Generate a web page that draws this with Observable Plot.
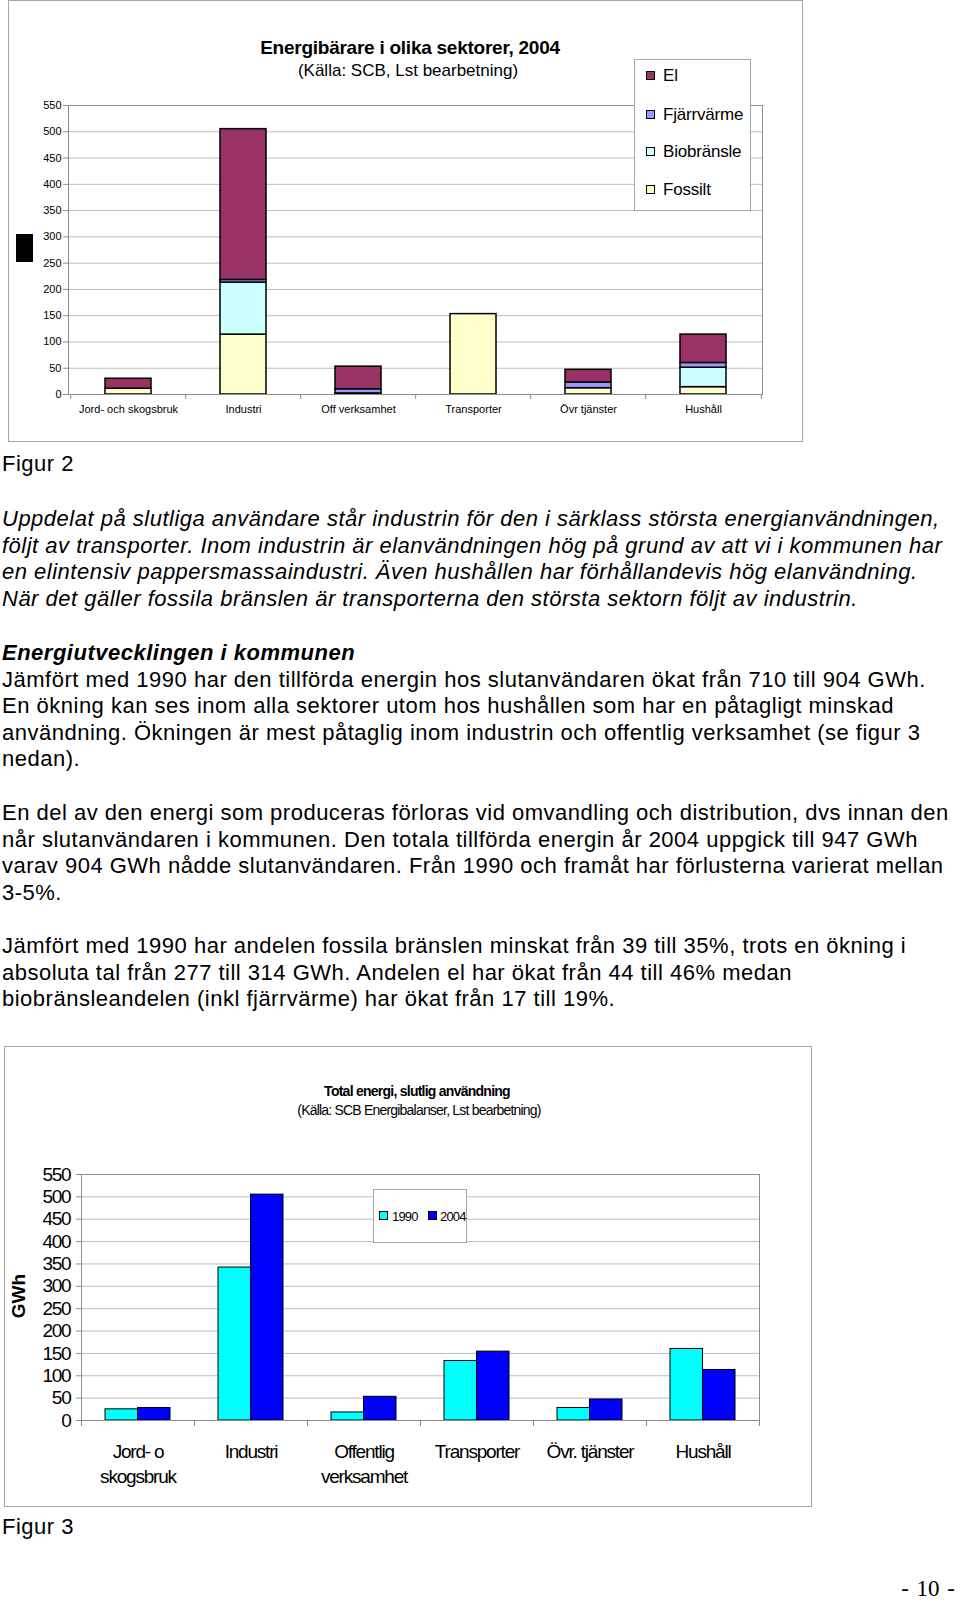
<!DOCTYPE html>
<html><head><meta charset="utf-8">
<script src="https://cdn.jsdelivr.net/npm/d3@7"></script>
<script src="https://cdn.jsdelivr.net/npm/@observablehq/plot@0.6"></script>
<style>
body{margin:0;background:#fff;font-family:"Liberation Sans",Arial,sans-serif;color:#000;}
#page{position:relative;width:960px;height:1600px;overflow:hidden;background:#fff;}
.frame{position:absolute;border:1px solid #a6a6a6;box-sizing:border-box;}
.abs{position:absolute;white-space:nowrap;}
.txt{position:absolute;left:2px;font-size:22px;letter-spacing:0.5px;line-height:26.5px;white-space:nowrap;}
.ctitle{position:absolute;transform:translate(-50%,-50%);white-space:nowrap;}
.leg{position:absolute;background:#fff;border:1px solid #a6a6a6;box-sizing:border-box;}
.sw{position:absolute;width:9px;height:9px;border:1px solid #000;box-sizing:border-box;}
.lt{position:absolute;transform:translateY(-50%);white-space:nowrap;}
</style>
</head><body>
<div id="page">
  <div class="frame" style="left:8px;top:0;width:795px;height:442px;"></div>
  <div id="c1" class="abs" style="left:8px;top:0;"></div>
  <div class="ctitle" style="left:410px;top:48px;font-size:19px;font-weight:bold;letter-spacing:-0.25px;">Energibärare i olika sektorer, 2004</div>
  <div class="ctitle" style="left:408px;top:71px;font-size:17px;">(Källa: SCB, Lst bearbetning)</div>
  <div class="abs" style="left:16px;top:234px;width:17px;height:28px;background:#000;"></div>
  <div id="leg1" class="leg" style="left:634px;top:59px;width:117px;height:152px;"></div>

  <div class="txt" style="top:451px;">Figur 2</div>
  <div class="txt" style="top:506px;font-style:italic;">Uppdelat på slutliga användare står industrin för den i särklass största energianvändningen,<br>följt av transporter. Inom industrin är elanvändningen hög på grund av att vi i kommunen har<br>en elintensiv pappersmassaindustri. Även hushållen har förhållandevis hög elanvändning.<br>När det gäller fossila bränslen är transporterna den största sektorn följt av industrin.</div>
  <div class="txt" style="top:640px;"><b><i>Energiutvecklingen i kommunen</i></b><br>Jämfört med 1990 har den tillförda energin hos slutanvändaren ökat från 710 till 904 GWh.<br>En ökning kan ses inom alla sektorer utom hos hushållen som har en påtagligt minskad<br>användning. Ökningen är mest påtaglig inom industrin och offentlig verksamhet (se figur 3<br>nedan).</div>
  <div class="txt" style="top:800px;">En del av den energi som produceras förloras vid omvandling och distribution, dvs innan den<br>når slutanvändaren i kommunen. Den totala tillförda energin år 2004 uppgick till 947 GWh<br>varav 904 GWh nådde slutanvändaren. Från 1990 och framåt har förlusterna varierat mellan<br>3-5%.</div>
  <div class="txt" style="top:933px;">Jämfört med 1990 har andelen fossila bränslen minskat från 39 till 35%, trots en ökning i<br>absoluta tal från 277 till 314 GWh. Andelen el har ökat från 44 till 46% medan<br>biobränsleandelen (inkl fjärrvärme) har ökat från 17 till 19%.</div>

  <div class="frame" style="left:4px;top:1046px;width:808px;height:461px;"></div>
  <div id="c2" class="abs" style="left:4px;top:1046px;"></div>
  <div class="ctitle" style="left:417px;top:1091px;font-size:14px;font-weight:bold;letter-spacing:-0.75px;">Total energi, slutlig användning</div>
  <div class="ctitle" style="left:419px;top:1110px;font-size:14px;letter-spacing:-0.8px;">(Källa: SCB Energibalanser, Lst bearbetning)</div>
  <div class="ctitle" style="left:19px;top:1296px;font-size:19px;font-weight:bold;transform:translate(-50%,-50%) rotate(-90deg);">GWh</div>
  <div id="leg2" class="leg" style="left:373px;top:1189px;width:94px;height:54px;"></div>

  <div class="txt" style="top:1514px;">Figur 3</div>
  <div class="abs" style="right:5px;top:1578px;font-family:'Liberation Serif',serif;font-size:23px;word-spacing:2px;line-height:22px;">- 10 -</div>
</div>
<script>
// ---- Figur 2 data ----
const sectors1 = ["Jord- och skogsbruk", "Industri", "Off verksamhet", "Transporter", "Övr tjänster", "Hushåll"];
const types1 = ["El", "Fjärrvärme", "Biobränsle", "Fossilt"];
const colors1 = ["#993366", "#9999ff", "#ccffff", "#ffffcc"];
const el = [19, 287, 43, 0, 24, 54];
const fjarrvarme = [0, 5, 8, 0, 11, 9];
const biobransle = [0, 99, 0, 0, 0, 37];
const fossilt = [11, 114, 2, 153, 12, 14];
const yTicks = [0, 50, 100, 150, 200, 250, 300, 350, 400, 450, 500, 550];

// ---- Figur 3 data ----
const sectors2 = ["Jord- o\nskogsbruk", "Industri", "Offentlig\nverksamhet", "Transporter", "Övr. tjänster", "Hushåll"];
const years = ["1990", "2004"];
const yearColors = ["#00ffff", "#0000ff"];
const v1990 = [25, 342, 18, 133, 28, 160];
const v2004 = [28, 505, 53, 154, 47, 113];

const seriesArr = {"El": el, "Fjärrvärme": fjarrvarme, "Biobränsle": biobransle, "Fossilt": fossilt};
const rows1 = [];
sectors1.forEach((s, i) => {
  ["Fossilt", "Biobränsle", "Fjärrvärme", "El"].forEach(t => {
    const v = seriesArr[t][i];
    if (v > 0) rows1.push({sector: s, type: t, value: v});
  });
});

// Chart 1
{
  const W = 795, H = 442, ml = 60, mr = 41, mt = 105, mb = 48;
  const p = 0.6;
  const step = (W - ml - mr) / sectors1.length;
  const chart = Plot.plot({
    width: W, height: H,
    marginLeft: ml, marginRight: mr, marginTop: mt, marginBottom: mb,
    style: {fontFamily: "Liberation Sans, Arial, sans-serif", fontSize: "11px", color: "#000", background: "transparent", overflow: "visible"},
    x: {domain: sectors1, paddingInner: p, paddingOuter: p / 2, label: null},
    y: {domain: [0, 550], label: null},
    color: {domain: types1, range: colors1},
    marks: [
      Plot.gridY(yTicks, {stroke: "#bdbdbd", strokeOpacity: 1}),
      Plot.frame({stroke: "#8c8c8c"}),
      Plot.barY(rows1, {x: "sector", y: "value", fill: "type", order: ["Fossilt", "Biobränsle", "Fjärrvärme", "El"], stroke: "#000", strokeWidth: 1.5}),
      Plot.ruleY([0], {stroke: "#8c8c8c"}),
      Plot.ruleX(sectors1, {x: d => d, y1: 0, y2: 0, insetBottom: -5, dx: -step / 2, stroke: "#8c8c8c"}),
      Plot.ruleX(sectors1.slice(-1), {x: d => d, y1: 0, y2: 0, insetBottom: -5, dx: step / 2, stroke: "#8c8c8c"}),
      Plot.axisY(yTicks, {tickSize: 5, tickPadding: 2, stroke: "#8c8c8c", label: null, letterSpacing: "-0.5px"}),
      Plot.axisX({tickSize: 0, tickPadding: 11, label: null})
    ]
  });
  document.getElementById("c1").appendChild(chart);

  const leg = document.getElementById("leg1");
  const ys = [16, 55, 92, 130];
  types1.forEach((t, i) => {
    const sw = document.createElement("div");
    sw.className = "sw";
    sw.style.left = "11px"; sw.style.top = (ys[i] - 5) + "px"; sw.style.background = colors1[i];
    leg.appendChild(sw);
    const tx = document.createElement("div");
    tx.className = "lt";
    tx.style.left = "28px"; tx.style.top = ys[i] + "px";
    tx.style.fontSize = "17px"; tx.style.letterSpacing = "-0.2px";
    tx.textContent = t;
    leg.appendChild(tx);
  });
}

// Chart 2
{
  const W = 808, H = 461, ml = 77, mr = 53, mt = 128, mb = 87;
  const p = 0.425;
  const step = (W - ml - mr) / sectors2.length;
  const half = step * (1 - p) / 2;
  const rows2 = sectors2.map((s, i) => ({sector: s, a: v1990[i], b: v2004[i]}));
  const chart = Plot.plot({
    width: W, height: H,
    marginLeft: ml, marginRight: mr, marginTop: mt, marginBottom: mb,
    style: {fontFamily: "Liberation Sans, Arial, sans-serif", fontSize: "19px", color: "#000", background: "transparent", overflow: "visible", letterSpacing: "-1.2px"},
    x: {domain: sectors2, paddingInner: p, paddingOuter: p / 2, label: null},
    y: {domain: [0, 550], label: null},
    marks: [
      Plot.gridY(yTicks, {stroke: "#bdbdbd", strokeOpacity: 1}),
      Plot.frame({stroke: "#8c8c8c"}),
      Plot.barY(rows2, {x: "sector", y: "a", fill: yearColors[0], stroke: "#000", strokeWidth: 1, insetRight: half}),
      Plot.barY(rows2, {x: "sector", y: "b", fill: yearColors[1], stroke: "#000", strokeWidth: 1, insetLeft: half}),
      Plot.ruleY([0], {stroke: "#8c8c8c"}),
      Plot.ruleX(sectors2, {x: d => d, y1: 0, y2: 0, insetBottom: -6, dx: -step / 2, stroke: "#8c8c8c"}),
      Plot.ruleX(sectors2.slice(-1), {x: d => d, y1: 0, y2: 0, insetBottom: -6, dx: step / 2, stroke: "#8c8c8c"}),
      Plot.axisY(yTicks, {tickSize: 5, tickPadding: 6, stroke: "#8c8c8c", label: null}),
      Plot.axisX({tickSize: 0, tickPadding: 20, lineHeight: 1.3, label: null})
    ]
  });
  document.getElementById("c2").appendChild(chart);

  const leg = document.getElementById("leg2");
  const sx = [5, 54], tx0 = [18, 66];
  years.forEach((y, i) => {
    const sw = document.createElement("div");
    sw.className = "sw";
    sw.style.left = sx[i] + "px"; sw.style.top = "21px"; sw.style.background = yearColors[i];
    leg.appendChild(sw);
    const tx = document.createElement("div");
    tx.className = "lt";
    tx.style.left = tx0[i] + "px"; tx.style.top = "26px";
    tx.style.fontSize = "13px"; tx.style.letterSpacing = "-0.8px";
    tx.textContent = y;
    leg.appendChild(tx);
  });
}
</script>
</body></html>
